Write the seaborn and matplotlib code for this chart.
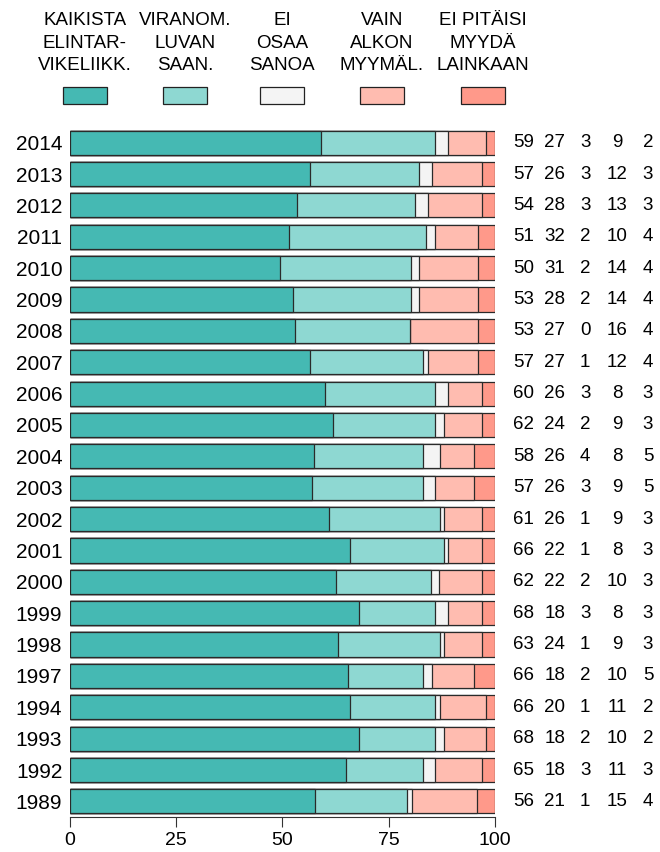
import matplotlib
matplotlib.use("Agg")
import matplotlib.pyplot as plt
import seaborn as sns
import pandas as pd
from matplotlib.patches import Rectangle

years = ["2014", "2013", "2012", "2011", "2010", "2009", "2008", "2007", "2006",
         "2005", "2004", "2003", "2002", "2001", "2000", "1999", "1998", "1997",
         "1994", "1993", "1992", "1989"]

kaikista = [59, 57, 54, 51, 50, 53, 53, 57, 60, 62, 58, 57, 61, 66, 62, 68, 63, 66, 66, 68, 65, 56]
viranom = [27, 26, 28, 32, 31, 28, 27, 27, 26, 24, 26, 26, 26, 22, 22, 18, 24, 18, 20, 18, 18, 21]
ei_osaa = [3, 3, 3, 2, 2, 2, 0, 1, 3, 2, 4, 3, 1, 1, 2, 3, 1, 2, 1, 2, 3, 1]
vain_alko = [9, 12, 13, 10, 14, 14, 16, 12, 8, 9, 8, 9, 9, 8, 10, 8, 9, 10, 11, 10, 11, 15]
ei_lainkaan = [2, 3, 3, 4, 4, 4, 4, 4, 3, 3, 5, 5, 3, 3, 3, 3, 3, 5, 2, 2, 3, 4]

labels = ["KAIKISTA\nELINTAR-\nVIKELIIKK.", "VIRANOM.\nLUVAN\nSAAN.", "EI\nOSAA\nSANOA",
          "VAIN\nALKON\nMYYMÄL.", "EI PITÄISI\nMYYDÄ\nLAINKAAN"]
colors = ["#45b9b3", "#8ed8d2", "#f4f4f4", "#ffbcb0", "#ff998a"]

series = [kaikista, viranom, ei_osaa, vain_alko, ei_lainkaan]
raw = pd.DataFrame(dict(zip(labels, series)), index=years)
share = raw.div(raw.sum(axis=1), axis=0) * 100
cum = share.cumsum(axis=1)

sns.set_style("white")
plt.rcParams["font.family"] = ["Liberation Sans", "DejaVu Sans"]
plt.rcParams["text.color"] = "black"
plt.rcParams["xtick.labelcolor"] = "black"
plt.rcParams["ytick.labelcolor"] = "black"

fig = plt.figure(figsize=(6.6, 8.52), dpi=100)
ax = fig.add_axes([0.106, 0.041, 0.644, 0.81])

# draw cumulative bars from the widest down so each segment shows
for i in range(len(labels) - 1, -1, -1):
    d = pd.DataFrame({"year": years, "val": cum.iloc[:, i].values})
    sns.barplot(data=d, x="val", y="year", order=years, orient="h",
                color=colors[i], edgecolor="#2a2a2a", linewidth=0.9,
                width=0.77, saturation=1, ax=ax)

ax.set_xlim(0, 100)
ax.set_ylim(len(years) - 0.5, -0.5)
ax.set_xlabel("")
ax.set_ylabel("")
for s in ["top", "right", "left"]:
    ax.spines[s].set_visible(False)
ax.spines["bottom"].set_color("#333333")
ax.set_xticks([0, 25, 50, 75, 100])
ax.tick_params(axis="x", bottom=True, length=7, color="#333333", labelsize=14, pad=4)
ax.tick_params(axis="y", left=False, labelsize=15, pad=2)

# numbers on the right
col_x = [106.8, 114.1, 121.2, 128.7, 136.0]
for r, yr in enumerate(years):
    for c in range(len(labels)):
        ax.text(col_x[c], r, str(raw.iloc[r, c]), ha="center", va="center",
                fontsize=13.5, clip_on=False)

# legend on top
leg_x = [85, 185, 282, 382, 483]
for c, lab in enumerate(labels):
    cx = leg_x[c] / 660
    fig.text(cx, 1 - 43 / 852, lab, ha="center", va="center", fontsize=13.5,
             linespacing=1.42)
    fig.add_artist(Rectangle((cx - 22 / 660, 1 - 104 / 852), 44 / 660, 17 / 852,
                             transform=fig.transFigure, facecolor=colors[c],
                             edgecolor="#222222", linewidth=0.9))

fig.savefig("out.png", dpi=100)
